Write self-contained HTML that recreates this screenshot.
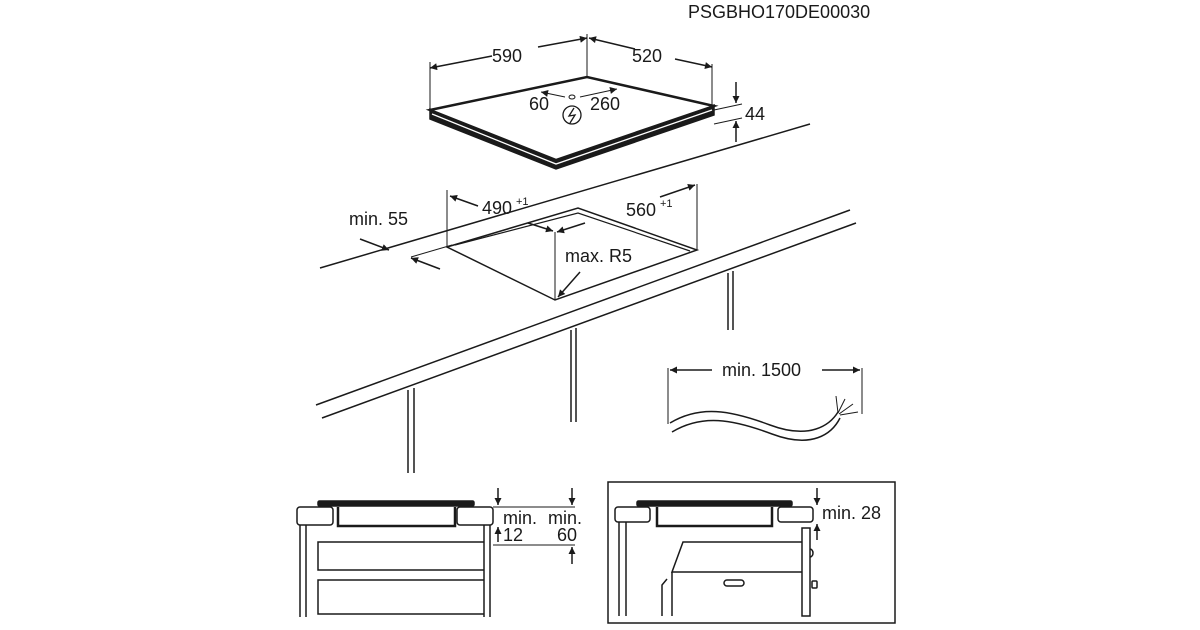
<!DOCTYPE html>
<html><head><meta charset="utf-8"><style>
html,body{margin:0;padding:0;background:#fff;width:1200px;height:630px;overflow:hidden}
svg text{font-family:"Liberation Sans",Arial,sans-serif;fill:#1a1a1a}
</style></head><body>
<svg width="1200" height="630" viewBox="0 0 1200 630" xmlns="http://www.w3.org/2000/svg">
<defs>
<marker id="a" viewBox="0 0 10 10" refX="10" refY="5" markerWidth="9" markerHeight="7" orient="auto-start-reverse" markerUnits="userSpaceOnUse"><path d="M0,0 L10,5 L0,10 z" fill="#1a1a1a"/></marker>
</defs>
<g stroke="#1a1a1a" fill="none" stroke-width="1.5">
<text x="688" y="18" font-size="18" stroke="none">PSGBHO170DE00030</text>
<!-- hob -->
<polygon points="430,109 556,159 714,105 714,115 556,169 430,119" fill="#1a1a1a" stroke="#1a1a1a" stroke-width="1.5"/>
<polyline points="432,114 556,164 712,110" stroke="#fff" stroke-width="1.3"/>
<path d="M430,110 L587,77 L714,106 L556,160 Z" fill="#fff" stroke-width="2.5"/>
<!-- dims top -->
<line x1="430" y1="62" x2="430" y2="110" stroke-width="1"/>
<line x1="587" y1="34" x2="587" y2="77" stroke-width="1"/>
<line x1="712" y1="64" x2="712" y2="106" stroke-width="1"/>
<line x1="492" y1="56" x2="430" y2="68" marker-end="url(#a)"/>
<line x1="538" y1="47" x2="587" y2="38" marker-end="url(#a)"/>
<line x1="635" y1="49" x2="589" y2="38" marker-end="url(#a)"/>
<line x1="675" y1="59" x2="712" y2="67" marker-end="url(#a)"/>
<text x="492" y="62" font-size="18" stroke="none">590</text>
<text x="632" y="62" font-size="18" stroke="none">520</text>
<line x1="565" y1="97" x2="541" y2="92" marker-end="url(#a)" stroke-width="1"/>
<line x1="580" y1="97" x2="617" y2="89" marker-end="url(#a)" stroke-width="1"/>
<ellipse cx="572" cy="97" rx="3" ry="2" stroke-width="1"/>
<text x="529" y="110" font-size="18" stroke="none">60</text>
<text x="590" y="110" font-size="18" stroke="none">260</text>
<circle cx="572" cy="115" r="9" stroke-width="1.3"/>
<path d="M574,108 L569,116 L575,115 L570,123" stroke-width="1.3"/>
<!-- 44 -->
<line x1="736" y1="82" x2="736" y2="103" marker-end="url(#a)"/>
<line x1="736" y1="142" x2="736" y2="121" marker-end="url(#a)"/>
<line x1="714" y1="110" x2="742" y2="104" stroke-width="1"/>
<line x1="714" y1="124" x2="742" y2="118" stroke-width="1"/>
<text x="745" y="120" font-size="18" stroke="none">44</text>
<!-- worktop -->
<line x1="320" y1="268" x2="810" y2="124"/>
<line x1="316" y1="405" x2="850" y2="210"/>
<line x1="322" y1="418" x2="856" y2="223"/>
<line x1="408" y1="390" x2="408" y2="473"/><line x1="414" y1="388" x2="414" y2="473"/>
<line x1="571" y1="330" x2="571" y2="422"/><line x1="576" y1="328" x2="576" y2="422"/>
<line x1="728" y1="273" x2="728" y2="330"/><line x1="733" y1="271" x2="733" y2="330"/>
<!-- cutout -->
<path d="M447,247 L578,208 L697,250 L555,300 Z"/>
<path d="M455,245 L578,213 L690,251" stroke-width="1.2"/>
<line x1="447" y1="190" x2="447" y2="247" stroke-width="1"/>
<line x1="697" y1="184" x2="697" y2="250" stroke-width="1"/>
<line x1="555" y1="232" x2="555" y2="300" stroke-width="1"/>
<line x1="478" y1="206" x2="450" y2="196" marker-end="url(#a)"/>
<line x1="528" y1="223" x2="553" y2="231" marker-end="url(#a)"/>
<line x1="585" y1="223" x2="557" y2="232" marker-end="url(#a)"/>
<line x1="660" y1="197" x2="695" y2="185" marker-end="url(#a)"/>
<text x="482" y="214" font-size="18" stroke="none">490</text>
<text x="516" y="205" font-size="11" stroke="none">+1</text>
<text x="626" y="216" font-size="18" stroke="none">560</text>
<text x="660" y="207" font-size="11" stroke="none">+1</text>
<text x="349" y="225" font-size="18" stroke="none">min. 55</text>
<line x1="360" y1="239" x2="389" y2="250" marker-end="url(#a)"/>
<line x1="440" y1="269" x2="411" y2="258" marker-end="url(#a)"/>
<line x1="411" y1="257" x2="452" y2="245" stroke-width="1"/>
<text x="565" y="262" font-size="18" stroke="none">max. R5</text>
<line x1="580" y1="272" x2="558" y2="297" marker-end="url(#a)"/>
<!-- cable -->
<line x1="668" y1="368" x2="668" y2="424" stroke-width="1"/>
<line x1="862" y1="368" x2="862" y2="414" stroke-width="1"/>
<line x1="712" y1="370" x2="670" y2="370" marker-end="url(#a)"/>
<line x1="822" y1="370" x2="860" y2="370" marker-end="url(#a)"/>
<text x="722" y="376" font-size="18" stroke="none">min. 1500</text>
<path d="M670,423 C700,405 730,410 770,425 C810,440 830,425 838,412"/>
<path d="M672,432 C702,414 732,419 772,434 C812,449 832,434 840,418"/>
<path d="M838,413 L836,396 M838,413 L845,399 M839,414 L853,404 M840,415 L858,412" stroke-width="1"/>
<!-- bottom left -->
<rect x="318" y="501" width="156" height="5" fill="#1a1a1a" rx="1.5"/>
<rect x="297" y="507" width="36" height="18" rx="3"/>
<rect x="457" y="507" width="36" height="18" rx="3"/>
<path d="M338,507 L338,526 L455,526 L455,507" stroke-width="2.5"/>
<line x1="300" y1="525" x2="300" y2="617"/><line x1="306" y1="525" x2="306" y2="617"/>
<line x1="484" y1="525" x2="484" y2="617"/><line x1="490" y1="525" x2="490" y2="617"/>
<path d="M484,542 L318,542 L318,570 L484,570"/>
<path d="M484,580 L318,580 L318,614 L484,614"/>
<line x1="493" y1="507" x2="575" y2="507" stroke-width="1"/>
<line x1="493" y1="545" x2="575" y2="545" stroke-width="1"/>
<line x1="498" y1="488" x2="498" y2="505" marker-end="url(#a)"/>
<line x1="498" y1="542" x2="498" y2="527" marker-end="url(#a)"/>
<line x1="572" y1="488" x2="572" y2="505" marker-end="url(#a)"/>
<line x1="572" y1="564" x2="572" y2="547" marker-end="url(#a)"/>
<text x="503" y="524" font-size="18" stroke="none">min.</text>
<text x="503" y="541" font-size="18" stroke="none">12</text>
<text x="548" y="524" font-size="18" stroke="none">min.</text>
<text x="557" y="541" font-size="18" stroke="none">60</text>
<!-- bottom right -->
<rect x="608" y="482" width="287" height="141"/>
<rect x="637" y="501" width="155" height="5" fill="#1a1a1a" rx="1.5"/>
<rect x="615" y="507" width="35" height="15" rx="3"/>
<rect x="778" y="507" width="35" height="15" rx="3"/>
<path d="M657,507 L657,526 L772,526 L772,507" stroke-width="2.5"/>
<line x1="619" y1="522" x2="619" y2="616"/><line x1="626" y1="522" x2="626" y2="616"/>
<path d="M802,542 L683,542 L672,572 L802,572"/>
<path d="M672,572 L672,616 M667,579 L662,585 L662,616"/>
<rect x="802" y="528" width="8" height="88"/>
<path d="M810,549 a3,4 0 0 1 0,8"/>
<rect x="812" y="581" width="5" height="7" rx="1"/>
<rect x="724" y="580" width="20" height="6" rx="3"/>
<line x1="817" y1="488" x2="817" y2="505" marker-end="url(#a)"/>
<line x1="817" y1="540" x2="817" y2="524" marker-end="url(#a)"/>
<text x="822" y="519" font-size="18" stroke="none">min. 28</text>
</g>
</svg>
</body></html>
